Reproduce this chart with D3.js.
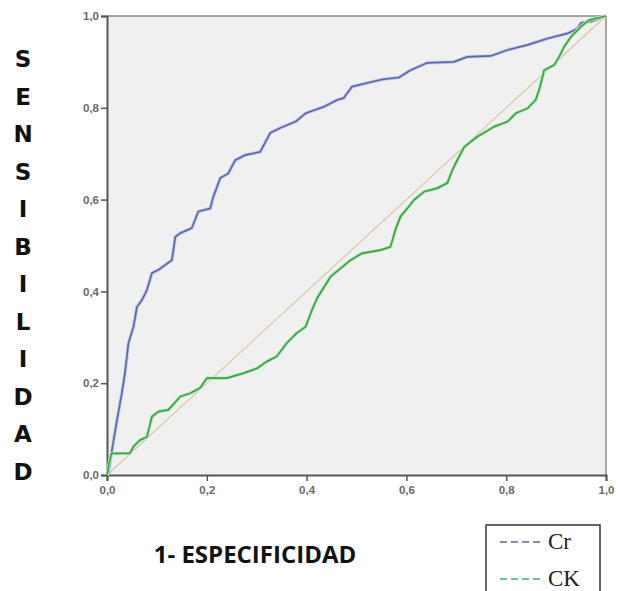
<!DOCTYPE html>
<html>
<head>
<meta charset="utf-8">
<script src="https://cdn.jsdelivr.net/npm/d3@7"></script>
<style>
  body { margin: 0; background: #fff; }
  .tick text { font-family: "Liberation Sans", Arial, sans-serif; font-size: 11.5px; fill: #6a6a6a; font-weight: bold; }
</style>
</head>
<body>
<div id="container"></div>
<script>
// ROC curves (1 - specificity, sensitivity)
const crX = [0, 0.003, 0.009, 0.019, 0.03, 0.036, 0.043, 0.053, 0.06, 0.07, 0.08, 0.09, 0.103, 0.13, 0.137, 0.147, 0.17, 0.183, 0.207, 0.213, 0.227, 0.243, 0.257, 0.277, 0.307, 0.327, 0.347, 0.378, 0.398, 0.434, 0.461, 0.474, 0.491, 0.521, 0.552, 0.585, 0.608, 0.642, 0.695, 0.722, 0.769, 0.803, 0.843, 0.883, 0.923, 0.943, 0.95, 0.97, 1];
const crY = [0, 0.004, 0.048, 0.113, 0.18, 0.222, 0.287, 0.323, 0.366, 0.381, 0.403, 0.44, 0.447, 0.468, 0.519, 0.527, 0.538, 0.574, 0.581, 0.606, 0.647, 0.657, 0.686, 0.697, 0.704, 0.745, 0.756, 0.77, 0.788, 0.802, 0.817, 0.821, 0.846, 0.854, 0.862, 0.866, 0.882, 0.898, 0.9, 0.911, 0.913, 0.926, 0.937, 0.951, 0.962, 0.973, 0.985, 0.988, 1];

const ckX = [0, 0.003, 0.009, 0.046, 0.053, 0.066, 0.08, 0.09, 0.103, 0.123, 0.147, 0.167, 0.187, 0.2, 0.24, 0.274, 0.3, 0.32, 0.34, 0.36, 0.38, 0.398, 0.411, 0.421, 0.448, 0.488, 0.511, 0.548, 0.568, 0.578, 0.588, 0.605, 0.615, 0.635, 0.662, 0.682, 0.692, 0.702, 0.716, 0.742, 0.776, 0.803, 0.819, 0.843, 0.859, 0.866, 0.873, 0.876, 0.896, 0.906, 0.916, 0.93, 0.95, 0.966, 1];
const ckY = [0, 0.018, 0.047, 0.047, 0.062, 0.076, 0.083, 0.127, 0.138, 0.142, 0.171, 0.178, 0.19, 0.211, 0.211, 0.222, 0.232, 0.247, 0.258, 0.287, 0.309, 0.323, 0.36, 0.385, 0.432, 0.468, 0.483, 0.49, 0.497, 0.534, 0.563, 0.585, 0.599, 0.617, 0.625, 0.636, 0.664, 0.686, 0.715, 0.737, 0.759, 0.77, 0.788, 0.799, 0.817, 0.839, 0.868, 0.882, 0.893, 0.911, 0.933, 0.955, 0.977, 0.991, 1];

const ticks = [0, 0.2, 0.4, 0.6, 0.8, 1.0];
const yTitle = "SENSIBILIDAD";
const xTitle = "1- ESPECIFICIDAD";
const legendNames = ["Cr", "CK"];

const W = 619, H = 591;
const margin = {top: 16, right: 13, bottom: 116, left: 107},
    width = W - margin.left - margin.right,
    height = H - margin.top - margin.bottom;

const svg = d3.select("#container")
  .append("svg")
    .attr("width", W)
    .attr("height", H);

const g = svg.append("g")
    .attr("transform", "translate(" + margin.left + "," + margin.top + ")");

const x = d3.scaleLinear().domain([0, 1]).range([0, width]);
const y = d3.scaleLinear().domain([0, 1]).range([height, 0]);

// plot background
g.append("rect")
  .attr("width", width)
  .attr("height", height)
  .attr("fill", "#f0f0f0");

// frame, top and right lighter
g.append("line").attr("x1", 0).attr("x2", width).attr("y1", 0).attr("y2", 0)
  .attr("stroke", "#8a8a8a").attr("stroke-width", 1.5);
g.append("line").attr("x1", width).attr("x2", width).attr("y1", 0).attr("y2", height)
  .attr("stroke", "#8a8a8a").attr("stroke-width", 1.5);

const fmt = d => d3.format(".1f")(d).replace(".", ",");

g.append("g")
  .attr("transform", `translate(0,${height})`)
  .call(d3.axisBottom(x).tickValues(ticks).tickFormat(fmt).tickSize(6).tickPadding(5))
  .call(a => a.select(".domain").attr("stroke", "#555").attr("stroke-width", 2))
  .call(a => a.selectAll(".tick line").attr("stroke", "#555").attr("stroke-width", 1.5));

g.append("g")
  .call(d3.axisLeft(y).tickValues(ticks).tickFormat(fmt).tickSize(6).tickPadding(2))
  .call(a => a.select(".domain").attr("stroke", "#555").attr("stroke-width", 2))
  .call(a => a.selectAll(".tick line").attr("stroke", "#555").attr("stroke-width", 1.5));

// reference diagonal
g.append("line")
  .attr("x1", x(0)).attr("y1", y(0))
  .attr("x2", x(1)).attr("y2", y(1))
  .attr("stroke", "#d9c6a6")
  .attr("stroke-width", 1.2);

const line = d3.line().x(d => x(d[0])).y(d => y(d[1]));

const series = [
  {name: "Cr", pts: d3.zip(crX, crY), color: "#5e6aa3", halo: "#c4c9ec"},
  {name: "CK", pts: d3.zip(ckX, ckY), color: "#3f9f48", halo: "#b5ecba"}
];

series.forEach(s => {
  g.append("path")
    .datum(s.pts)
    .attr("d", line)
    .attr("fill", "none")
    .attr("stroke", s.halo)
    .attr("stroke-width", 3.5)
    .attr("stroke-linejoin", "round");
  g.append("path")
    .datum(s.pts)
    .attr("d", line)
    .attr("fill", "none")
    .attr("stroke", s.color)
    .attr("stroke-width", 1.7)
    .attr("stroke-linejoin", "round");
});

// stacked y title
svg.append("g")
  .selectAll("text")
  .data(yTitle.split(""))
  .enter()
  .append("text")
    .attr("x", 23)
    .attr("y", (d, i) => 67 + i * 37.5)
    .attr("text-anchor", "middle")
    .attr("font-family", "'DejaVu Sans', sans-serif")
    .attr("font-weight", "bold")
    .attr("font-size", 23)
    .attr("fill", "#111")
    .text(d => d);

svg.append("text")
  .attr("x", 255)
  .attr("y", 563)
  .attr("text-anchor", "middle")
  .attr("font-family", "'Open Sans', sans-serif")
  .attr("font-weight", "bold")
  .attr("font-size", 24)
  .attr("fill", "#111")
  .text(xTitle);

// legend box (cut by the bottom edge)
const legend = svg.append("g").attr("transform", "translate(486,525)");
legend.append("rect")
  .attr("width", 114)
  .attr("height", 80)
  .attr("fill", "#fff")
  .attr("stroke", "#333")
  .attr("stroke-width", 1.5);

const legColors = ["#5d6a8e", "#3fae86"];
legendNames.forEach((name, i) => {
  legend.append("line")
    .attr("x1", 14).attr("x2", 57)
    .attr("y1", 17 + i * 37).attr("y2", 17 + i * 37)
    .attr("stroke", legColors[i])
    .attr("stroke-width", 1.3)
    .attr("stroke-dasharray", "7,4");
  legend.append("text")
    .attr("x", 62)
    .attr("y", 24 + i * 37)
    .attr("font-family", "'Liberation Serif', 'Times New Roman', serif")
    .attr("font-size", 23)
    .attr("fill", "#222")
    .text(name);
});
</script>
</body>
</html>
